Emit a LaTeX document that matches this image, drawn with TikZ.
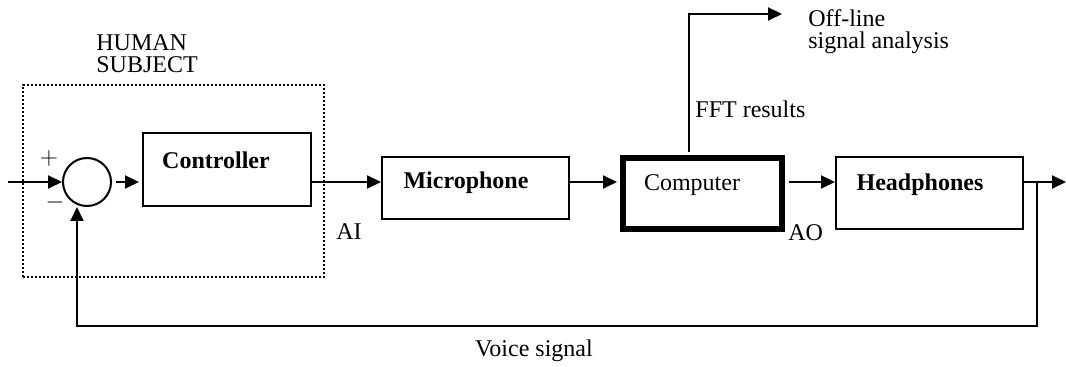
\documentclass[tikz,border=0pt]{standalone}
\usepackage{fontspec}
\setmainfont{Liberation Serif}
\usepackage{tikz}
\usetikzlibrary{arrows.meta}

\tikzset{
  arr/.style={line width=1pt,-{Triangle[length=7pt,width=6.5pt]}},
  blockbox/.style={draw,line width=1pt,inner sep=0pt},
  lbl/.style={font=\fontsize{12}{11}\selectfont,inner sep=0pt}
}

\begin{document}
\begin{tikzpicture}[x=0.5pt,y=-0.5pt]
                    \useasboundingbox (0,0) rectangle (1066,367);

                    % human subject
                    \node[draw,densely dotted,line width=1pt,minimum width=150.5pt,minimum height=96pt,inner sep=0pt] (subj) at (173.5,181) {};
                    \node[lbl,anchor=base west,align=left] (subjtxt) at (96,73) {HUMAN\\SUBJECT};

                    \node[draw,circle,line width=1pt,minimum size=24pt,inner sep=0pt] (sum) at (87,182) {};
                    \node[lbl] (plus) at (49,159) {$+$};
                    \node[lbl] (minus) at (55,203) {$-$};

                    \node[blockbox,minimum width=84pt,minimum height=36.5pt] (ctrl) at (227,169.5) {};
                    \node[lbl] (ctrltxt) at (216,160) {\textbf{Controller}};

                    \node[blockbox,minimum width=93.5pt,minimum height=31pt] (mic) at (475.5,188) {};
                    \node[lbl] (mictxt) at (466,183) {\textbf{Microphone}};

                    \node[draw,line width=3pt,inner sep=0pt,minimum width=79.5pt,minimum height=35.5pt] (comp) at (702.5,193.5) {};
                    \node[lbl] (comptxt) at (692,185) {Computer};

                    \node[blockbox,minimum width=93.5pt,minimum height=36pt] (head) at (929.5,193) {};
                    \node[lbl] (headtxt) at (920,185) {\textbf{Headphones}};

                    % labels
                    \node[lbl,anchor=base west] (ai) at (336,240) {AI};
                    \node[lbl,anchor=base west] (ao) at (788,241) {AO};
                    \node[lbl,anchor=base west] (ffttxt) at (695,118) {FFT results};
                    \node[lbl,anchor=base west,align=left] (offtxt) at (808,49) {Off-line\\signal analysis};
                    \node[lbl,anchor=base] (voice) at (534,357) {Voice signal};

                    \coordinate (in) at (8,182);
                    \coordinate (out) at (1066,182);
                    \coordinate (br) at (1037,182);
                    \coordinate (fb) at (77,326);
                    \coordinate (fft) at (689,14);
                    \coordinate (off) at (782,14);

                    % signal path
                    \draw[arr] (in) -- (sum.west);
                    \draw[arr] (sum.east) ++(4,0) -- ([xshift=-1.5pt]ctrl.west |- sum);
                    \draw[arr] (ctrl.east |- sum) -- (mic.west |- sum);
                    \draw[arr] (mic.east |- sum) -- ([xshift=-1.5pt]comp.west |- sum);
                    \draw[arr] ([xshift=2pt]comp.east |- sum) -- (head.west |- sum);
                    \draw[arr] (head.east |- sum) -- (out);
                    \draw[arr] (br) |- (fb) -- (sum.south -| fb);
                    \draw[arr] ([yshift=1.5pt]comp.north -| fft) |- (off);
                    \end{tikzpicture}
\end{document}
